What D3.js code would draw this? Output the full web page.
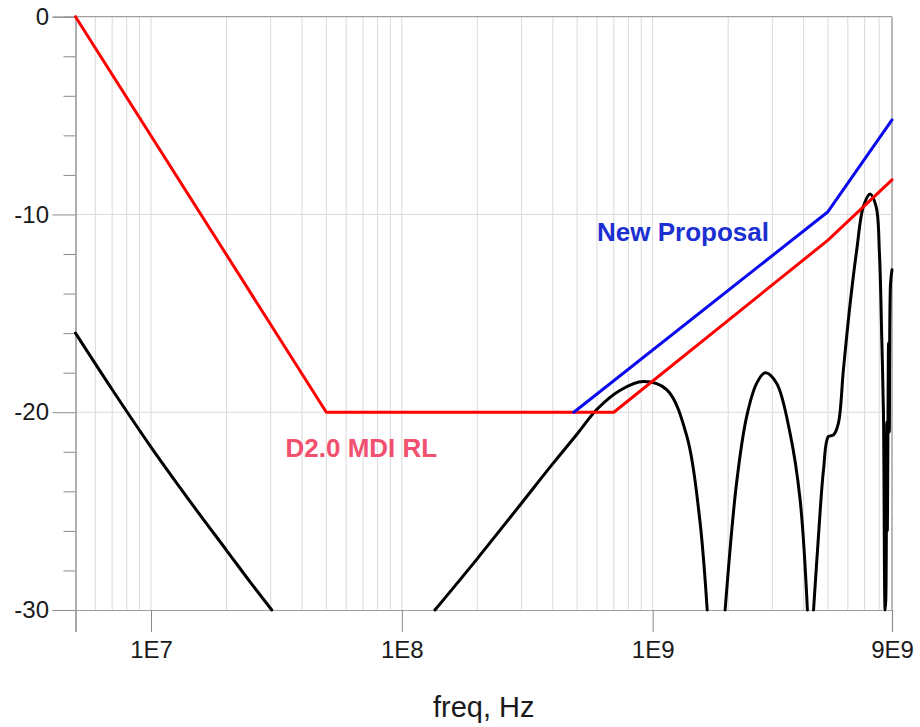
<!DOCTYPE html>
<html>
<head>
<meta charset="utf-8">
<script src="https://cdn.jsdelivr.net/npm/d3@7"></script>
<style>
  html, body { margin: 0; padding: 0; background: #fff; }
  svg { display: block; font-family: "Liberation Sans", Arial, sans-serif; }
</style>
</head>
<body>
<svg id="chart" width="920" height="727"></svg>
<script>
// Return-loss limit lines and measured return loss (dB) versus frequency (Hz)
const mdiFreq = [5e6, 5e7, 7e8, 5e9, 9e9];
const mdiDb   = [0, -20, -20, -11.3, -8.25];

const proposalFreq = [4.85e8, 5e9, 9e9];
const proposalDb   = [-20, -9.86, -5.22];

// Measured trace; null marks where the trace runs below the plotted range
const measFreq = [
  5e6, 7e6, 1e7, 1.5e7, 2e7, 2.5e7, 3.03e7,
  6e7,
  1.355e8, 2e8, 3e8, 4e8, 5e8, 6e8, 7.4e8, 9.18e8, 1.14e9, 1.37e9, 1.54e9, 1.65e9,
  1.8e9,
  1.945e9, 2.16e9, 2.37e9, 2.6e9, 2.81e9, 3.12e9, 3.53e9, 3.87e9, 4.14e9,
  4.25e9,
  4.38e9, 4.58e9, 4.8e9, 5.02e9, 5.26e9, 5.5e9, 5.76e9, 6.13e9, 6.51e9, 6.92e9, 7.36e9,
  7.78e9, 8.02e9, 8.19e9, 8.32e9, 8.45e9, 8.5e9, 8.58e9, 8.62e9, 8.72e9, 8.78e9, 8.88e9, 9e9
];
const measDb = [
  -16.0, -18.85, -21.76, -24.86, -26.98, -28.63, -30,
  null,
  -30, -27.4, -24.6, -22.6, -21.1, -19.85, -18.9, -18.45, -18.87, -21.23, -25.4, -30,
  null,
  -30, -23.59, -20.22, -18.53, -18.0, -18.53, -21.06, -24.4, -30,
  null,
  -30, -26.3, -22.9, -21.23, -21.15, -20.56, -17.86, -14.49, -11.8, -9.6, -8.96,
  -9.6, -11.96, -16.2, -20.05, -30, -29.5, -20.5, -26, -16.5, -21, -13.5, -12.8
];

const xTickValues = [5e6, 1e7, 1e8, 1e9, 9e9];
const xTickLabels = ["", "1E7", "1E8", "1E9", "9E9"];
const yMajorTicks = [0, -10, -20, -30];
const yMajorLabels = ["0", "-10", "-20", "-30"];
const yMinorTicks = d3.range(-28, 0, 2).filter(v => v % 10 !== 0);

const svg = d3.select("#chart");
const plotLeft = 75.5, plotRight = 892, plotTop = 16.7, plotBottom = 610;

const x = d3.scaleLog().domain([5e6, 9e9]).range([plotLeft, plotRight]);
const y = d3.scaleLinear().domain([-30, 0]).range([plotBottom, plotTop]);

// Grid: log minor lines and horizontal lines at the major dB steps
const gridX = x.ticks().filter(v => v > 5e6 * 1.001 && v < 9e9 * 0.999);
svg.append("g").selectAll("line").data(gridX).join("line")
  .attr("x1", d => x(d)).attr("x2", d => x(d))
  .attr("y1", plotTop).attr("y2", plotBottom)
  .attr("stroke", "#dadada").attr("stroke-width", 1);
svg.append("g").selectAll("line").data([-10, -20]).join("line")
  .attr("x1", plotLeft).attr("x2", plotRight)
  .attr("y1", d => y(d)).attr("y2", d => y(d))
  .attr("stroke", "#dadada").attr("stroke-width", 1);

// Frame: top and right edges
svg.append("line").attr("x1", plotLeft).attr("x2", plotRight).attr("y1", plotTop).attr("y2", plotTop)
  .attr("stroke", "#a0a0a0").attr("stroke-width", 1.2);
svg.append("line").attr("x1", plotRight).attr("x2", plotRight).attr("y1", plotTop).attr("y2", plotBottom)
  .attr("stroke", "#b8b8b8").attr("stroke-width", 2);

// Y axis: minor ticks every 2 dB, labelled major ticks every 10 dB
const yMinor = svg.append("g").attr("transform", `translate(${plotLeft},0)`)
  .call(d3.axisLeft(y).tickValues(yMinorTicks).tickSize(12).tickFormat(""));
const yMajor = svg.append("g").attr("transform", `translate(${plotLeft},0)`)
  .call(d3.axisLeft(y).tickValues(yMajorTicks).tickSize(23).tickPadding(3.5)
    .tickFormat((d, i) => yMajorLabels[i]));
[yMinor, yMajor].forEach(g => {
  g.select(".domain").attr("stroke", "#a0a0a0").attr("stroke-width", 1.2);
  g.selectAll(".tick line").attr("stroke", "#8a8a8a").attr("stroke-width", 1);
});
yMajor.selectAll("text").attr("font-size", 24).attr("fill", "#1a1a1a")
  .attr("font-family", "'Liberation Sans', Arial, sans-serif");

// X axis
const xAxis = svg.append("g").attr("transform", `translate(0,${plotBottom})`)
  .call(d3.axisBottom(x).tickValues(xTickValues).tickSize(22).tickPadding(9)
    .tickFormat((d, i) => xTickLabels[i]));
xAxis.select(".domain").attr("stroke", "#a0a0a0").attr("stroke-width", 1.2);
xAxis.selectAll(".tick line").attr("stroke", "#8a8a8a").attr("stroke-width", 1);
xAxis.selectAll("text").attr("font-size", 24).attr("fill", "#1a1a1a")
  .attr("font-family", "'Liberation Sans', Arial, sans-serif");

svg.append("text")
  .attr("x", (plotLeft + plotRight) / 2).attr("y", 716.5)
  .attr("text-anchor", "middle").attr("font-size", 29).attr("fill", "#1a1a1a")
  .text("freq, Hz");

// Series
svg.append("defs").append("clipPath").attr("id", "plotClip")
  .append("rect").attr("x", plotLeft - 2).attr("y", plotTop - 2)
  .attr("width", plotRight - plotLeft + 4).attr("height", plotBottom - plotTop + 4);

const plot = svg.append("g").attr("clip-path", "url(#plotClip)");

const zip = (fs, ds) => fs.map((f, i) => ({ f, v: ds[i] }));

const measLine = d3.line()
  .defined(d => d.v !== null)
  .x(d => x(d.f)).y(d => y(d.v))
  .curve(d3.curveCatmullRom.alpha(0.5));

plot.append("path")
  .datum(zip(measFreq, measDb))
  .attr("d", measLine)
  .attr("fill", "none").attr("stroke", "#000").attr("stroke-width", 3)
  .attr("stroke-linejoin", "round").attr("stroke-linecap", "round");

const straight = d3.line().x(d => x(d.f)).y(d => y(d.v));

plot.append("path")
  .datum(zip(mdiFreq, mdiDb))
  .attr("d", straight)
  .attr("fill", "none").attr("stroke", "#ff0000").attr("stroke-width", 3)
  .attr("stroke-linejoin", "round").attr("stroke-linecap", "round");

plot.append("path")
  .datum(zip(proposalFreq, proposalDb))
  .attr("d", straight)
  .attr("fill", "none").attr("stroke", "#0a0af0").attr("stroke-width", 3)
  .attr("stroke-linejoin", "round").attr("stroke-linecap", "round");

// Series labels
svg.append("text")
  .attr("x", 597).attr("y", 240.5)
  .attr("font-size", 26).attr("font-weight", "bold").attr("fill", "#1c30d2")
  .text("New Proposal");

svg.append("text")
  .attr("x", 285.5).attr("y", 457)
  .attr("font-size", 26).attr("font-weight", "bold").attr("fill", "#f2506f")
  .text("D2.0 MDI RL");
</script>
</body>
</html>
